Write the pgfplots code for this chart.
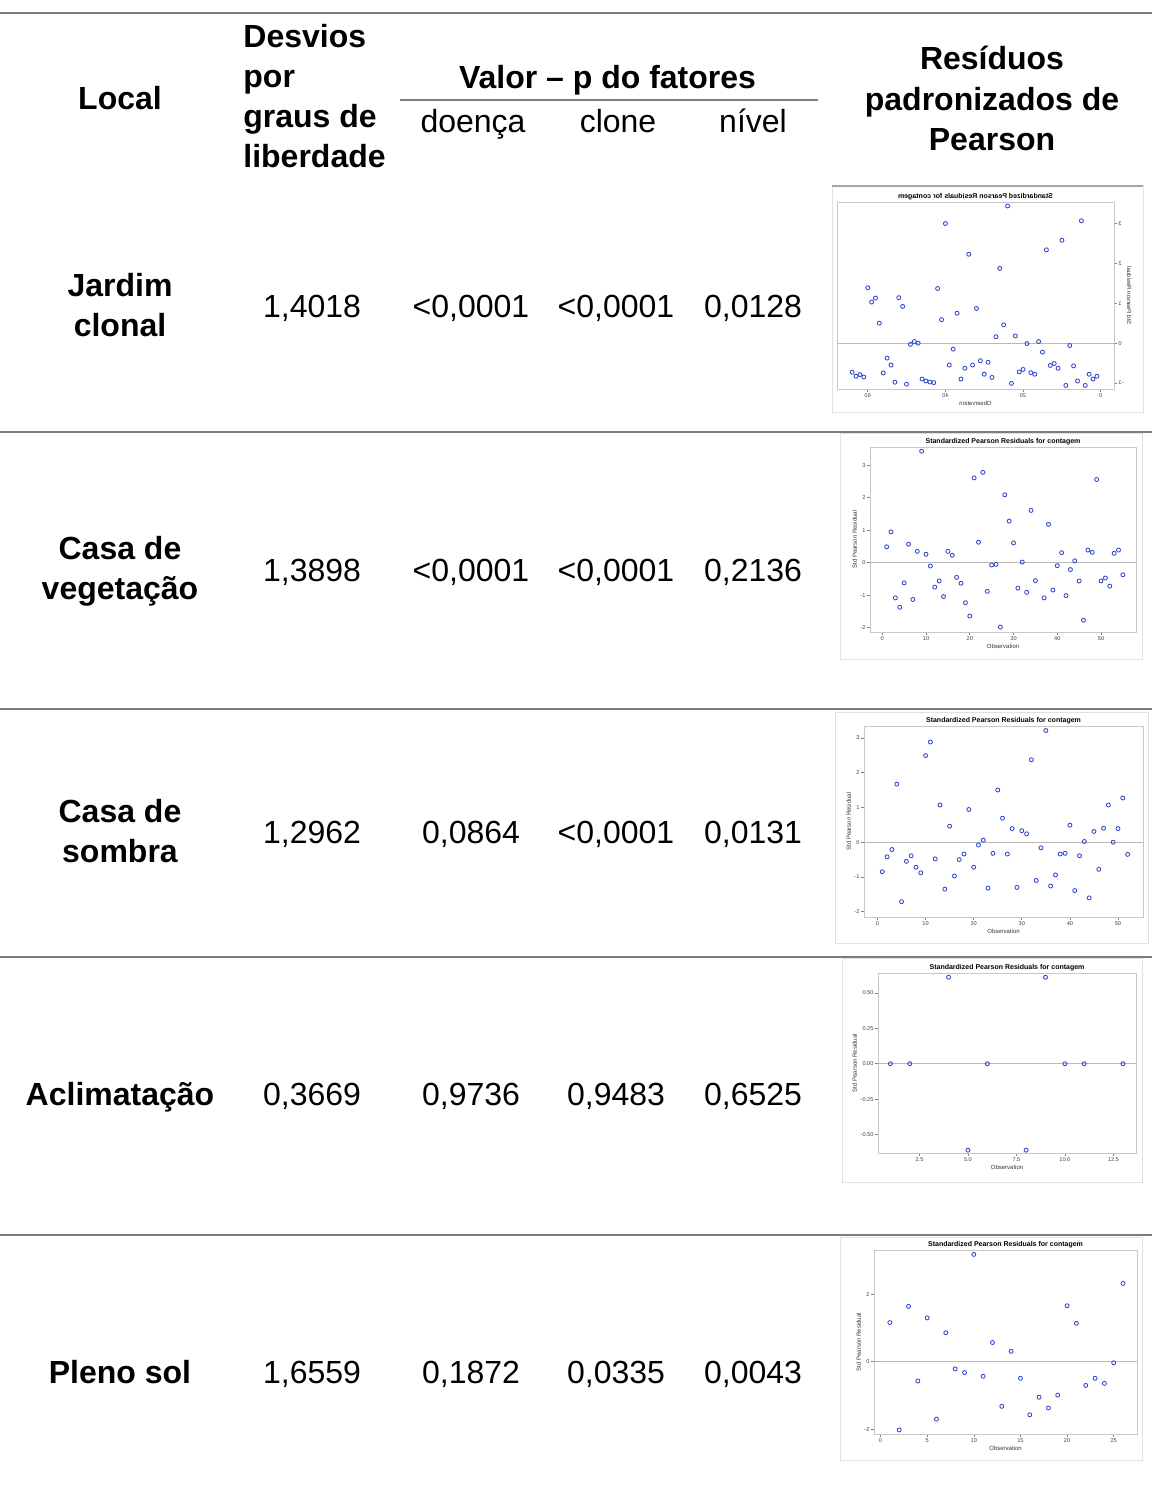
\documentclass[border=0pt]{standalone}
\usepackage{fontspec}
\setmainfont{Liberation Sans}
\usepackage{graphicx}
\usepackage{pgfplots}
\pgfplotsset{compat=1.18}
\definecolor{ptblue}{RGB}{45,70,205}
\definecolor{rulegray}{RGB}{125,125,125}
\definecolor{framegray}{RGB}{200,200,200}
\definecolor{boxgray}{RGB}{225,225,225}

\pgfplotsset{resid/.style={
  scale only axis, anchor=north west,
  axis line style={draw=framegray, line width=0.35pt},
  tick style={draw=gray, line width=0.3pt},
  tick align=outside, major tick length=1.3pt,
  xtick pos=left, ytick pos=left,
  every axis title shift=0pt,
  title style={font=\bfseries\fontsize{3.5}{4}\selectfont, inner sep=1pt},
  tick label style={font=\fontsize{2.8}{3.2}\selectfont, text=black!75, inner sep=0.8pt},
  label style={font=\fontsize{3}{3.5}\selectfont, text=black!80, inner sep=0.8pt},
  title={Standardized Pearson Residuals for contagem},
  xlabel={Observation}, ylabel={Std Pearson Residual},
  clip=false,
}}
\pgfplotsset{resmark/.style={only marks, mark=o, mark size=1pt, mark options={draw=ptblue, line width=0.42pt}}}
\newcommand{\zeroline}{\draw[gray!55, line width=0.3pt] ({rel axis cs:0,0}|-{axis cs:0,0}) -- ({rel axis cs:1,0}|-{axis cs:0,0});}

\begin{document}
\begin{tikzpicture}[x=0.5pt,y=-0.5pt]
\path[use as bounding box] (0,0) rectangle (1152,1502);
\tikzset{txt/.style={font=\fontsize{16}{20}\selectfont, inner sep=0pt, anchor=base},
         btxt/.style={txt, font=\bfseries\fontsize{16}{20}\selectfont}}
% rules
\draw[rulegray, line width=1.2pt] (0,13) -- (1152,13);
\draw[rulegray, line width=1pt] (400,100) -- (818,100);
\foreach \yy in {432,709,957,1235} \draw[rulegray, line width=0.9pt] (0,\yy) -- (1152,\yy);
% header
\node[btxt] at (120,109.5) {Local};
\node[btxt, anchor=base west] at (243,48) {Desvios};
\node[btxt, anchor=base west] at (243,88) {por};
\node[btxt, anchor=base west] at (243,128) {graus de};
\node[btxt, anchor=base west] at (243,168) {liberdade};
\node[btxt] at (607.5,89) {Valor -- p do fatores};
\node[txt] at (473,133) {doença};
\node[txt] at (618,133) {clone};
\node[txt] at (753,133) {nível};
\node[btxt] at (992,69.5) {Resíduos};
\node[btxt] at (992,111) {padronizados de};
\node[btxt] at (992,151) {Pearson};
% row names
\node[btxt] at (120,297) {Jardim};
\node[btxt] at (120,337) {clonal};
\node[btxt] at (120,559) {Casa de};
\node[btxt] at (120,599) {vegetação};
\node[btxt] at (120,822) {Casa de};
\node[btxt] at (120,862) {sombra};
\node[btxt] at (120,1105) {Aclimatação};
\node[btxt] at (120,1383) {Pleno sol};
% values
\node[txt] at (312,317.5) {1,4018};
\node[txt] at (471,317.5) {<0,0001};
\node[txt] at (616,317.5) {<0,0001};
\node[txt] at (753,317.5) {0,0128};
\node[txt] at (312,581.5) {1,3898};
\node[txt] at (471,581.5) {<0,0001};
\node[txt] at (616,581.5) {<0,0001};
\node[txt] at (753,581.5) {0,2136};
\node[txt] at (312,843.5) {1,2962};
\node[txt] at (471,843.5) {0,0864};
\node[txt] at (616,843.5) {<0,0001};
\node[txt] at (753,843.5) {0,0131};
\node[txt] at (312,1105.5) {0,3669};
\node[txt] at (471,1105.5) {0,9736};
\node[txt] at (616,1105.5) {0,9483};
\node[txt] at (753,1105.5) {0,6525};
\node[txt] at (312,1383.5) {1,6559};
\node[txt] at (471,1383.5) {0,1872};
\node[txt] at (616,1383.5) {0,0335};
\node[txt] at (753,1383.5) {0,0043};
% image borders
\draw[boxgray, line width=0.5pt] (832,186) rectangle (1143,413);
\draw[gray!70, line width=0.6pt] (832,186) -- (1143,186);
\draw[boxgray, line width=0.5pt] (840,433) rectangle (1142,659);
\draw[boxgray, line width=0.5pt] (835,712) rectangle (1148,943);
\draw[boxgray, line width=0.5pt] (842,958) rectangle (1142,1182);
\draw[boxgray, line width=0.5pt] (840,1237) rectangle (1142,1460);

% ---- Plot 1 (mirrored) ----
\begin{axis}[resid, at={(418.5pt,-101pt)}, width=138.5pt, height=93.5pt,
  x dir=reverse, ytick pos=right, yticklabel pos=right,
  xmin=-3.4, xmax=67.9, ymin=-1.15, ymax=3.54,
  xtick={0,20,40,60}, xticklabels={\reflectbox{0},\reflectbox{20},\reflectbox{40},\reflectbox{60}},
  ytick={-1,0,1,2,3}, yticklabels={\reflectbox{-1},\reflectbox{0},\reflectbox{1},\reflectbox{2},\reflectbox{3}},
  title={\reflectbox{Standardized Pearson Residuals for contagem}},
  xlabel={\reflectbox{Observation}}, ylabel={\scalebox{1}[-1]{Std Pearson Residual}}]
\zeroline
\addplot[resmark] coordinates {
(1,-0.83)(2,-0.90)(3,-0.78)(4,-1.06)(5,3.07)(6,-0.95)(7,-0.57)(8,-0.06)(9,-1.06)(10,2.58)
(11,-0.63)(12,-0.51)(13,-0.56)(14,2.34)(15,-0.225)(16,0.04)(17,-0.78)(18,-0.74)(19,-0.01)(20,-0.66)
(21,-0.72)(22,0.18)(23,-1.01)(24,3.44)(25,0.46)(26,1.875)(27,0.16)(28,-0.86)(29,-0.48)(30,-0.78)
(31,-0.44)(32,0.87)(33,-0.55)(34,2.23)(35,-0.63)(36,-0.90)(37,0.75)(38,-0.15)(39,-0.55)(40,3.00)
(41,0.59)(42,1.37)(43,-0.99)(44,-0.975)(45,-0.95)(46,-0.90)(47,0.00)(48,0.04)(49,-0.03)(50,-1.03)
(51,0.92)(52,1.14)(53,-0.98)(54,-0.55)(55,-0.375)(56,-0.75)(57,0.50)(58,1.13)(59,1.03)(60,1.39)
(61,-0.85)(62,-0.79)(63,-0.83)(64,-0.73)};
\end{axis}

% ---- Plot 2 ----
\begin{axis}[resid, at={(435pt,-223.5pt)}, width=133pt, height=92.5pt,
  xmin=-2.8, xmax=58, ymin=-2.13, ymax=3.56,
  xtick={0,10,20,30,40,50}, xticklabels={0,10,20,30,40,50},
  ytick={-2,-1,0,1,2,3}, yticklabels={-2,-1,0,1,2,3}]
\zeroline
\addplot[resmark] coordinates {
(1,0.49)(2,0.95)(3,-1.08)(4,-1.37)(5,-0.62)(6,0.57)(7,-1.13)(8,0.35)(9,3.43)(10,0.26)
(11,-0.10)(12,-0.75)(13,-0.56)(14,-1.04)(15,0.35)(16,0.23)(17,-0.45)(18,-0.63)(19,-1.23)(20,-1.64)
(21,2.61)(22,0.63)(23,2.78)(24,-0.88)(25,-0.07)(26,-0.05)(27,-1.98)(28,2.09)(29,1.28)(30,0.61)
(31,-0.78)(32,0.02)(33,-0.91)(34,1.61)(35,-0.55)(37,-1.08)(38,1.18)(39,-0.84)(40,-0.09)
(41,0.31)(42,-1.01)(43,-0.21)(44,0.06)(45,-0.56)(46,-1.77)(47,0.39)(48,0.32)(49,2.56)(50,-0.56)
(51,-0.47)(52,-0.72)(53,0.29)(54,0.39)(55,-0.37)};
\end{axis}

% ---- Plot 3 ----
\begin{axis}[resid, at={(432pt,-363pt)}, width=139.5pt, height=95.5pt,
  xmin=-2.8, xmax=55.2, ymin=-2.15, ymax=3.34,
  xtick={0,10,20,30,40,50}, xticklabels={0,10,20,30,40,50},
  ytick={-2,-1,0,1,2,3}, yticklabels={-2,-1,0,1,2,3}]
\zeroline
\addplot[resmark] coordinates {
(1,-0.85)(2,-0.42)(3,-0.21)(4,1.67)(5,-1.71)(6,-0.55)(7,-0.39)(8,-0.72)(9,-0.88)(10,2.49)
(11,2.88)(12,-0.48)(13,1.07)(14,-1.35)(15,0.46)(16,-0.97)(17,-0.50)(18,-0.34)(19,0.94)(20,-0.72)
(21,-0.08)(22,0.06)(23,-1.32)(24,-0.32)(25,1.50)(26,0.69)(27,-0.34)(28,0.39)(29,-1.30)(30,0.33)
(31,0.24)(32,2.37)(33,-1.10)(34,-0.16)(35,3.21)(36,-1.26)(37,-0.94)(38,-0.34)(39,-0.32)(40,0.49)
(41,-1.39)(42,-0.39)(43,0.02)(44,-1.60)(45,0.31)(46,-0.78)(47,0.40)(48,1.07)(49,0.00)(50,0.39)
(51,1.27)(52,-0.35)};
\end{axis}

% ---- Plot 4 ----
\begin{axis}[resid, at={(439pt,-486.5pt)}, width=129pt, height=90pt,
  xmin=0.36, xmax=13.67, ymin=-0.63, ymax=0.64,
  xtick={2.5,5,7.5,10,12.5}, xticklabels={2.5,5.0,7.5,10.0,12.5},
  ytick={-0.5,-0.25,0,0.25,0.5}, yticklabels={-0.50,-0.25,0.00,0.25,0.50}]
\zeroline
\addplot[resmark] coordinates {
(1,0)(2,0)(4,0.61)(5,-0.61)(6,0)(8,-0.61)(9,0.61)(10,0)(11,0)(13,0)};
\end{axis}

% ---- Plot 5 ----
\begin{axis}[resid, at={(437pt,-625pt)}, width=131.5pt, height=92pt,
  xmin=-0.7, xmax=27.5, ymin=-2.14, ymax=3.31,
  xtick={0,5,10,15,20,25}, xticklabels={0,5,10,15,20,25},
  ytick={-2,0,2}, yticklabels={-2,0,2}]
\zeroline
\addplot[resmark] coordinates {
(1,1.16)(2,-2.02)(3,1.64)(4,-0.57)(5,1.30)(6,-1.70)(7,0.86)(8,-0.21)(9,-0.32)(10,3.18)
(11,-0.43)(12,0.57)(13,-1.32)(14,0.31)(15,-0.49)(16,-1.57)(17,-1.05)(18,-1.37)(19,-0.99)(20,1.66)
(21,1.14)(22,-0.70)(23,-0.49)(24,-0.64)(25,-0.03)(26,2.32)};
\end{axis}
\end{tikzpicture}
\end{document}
